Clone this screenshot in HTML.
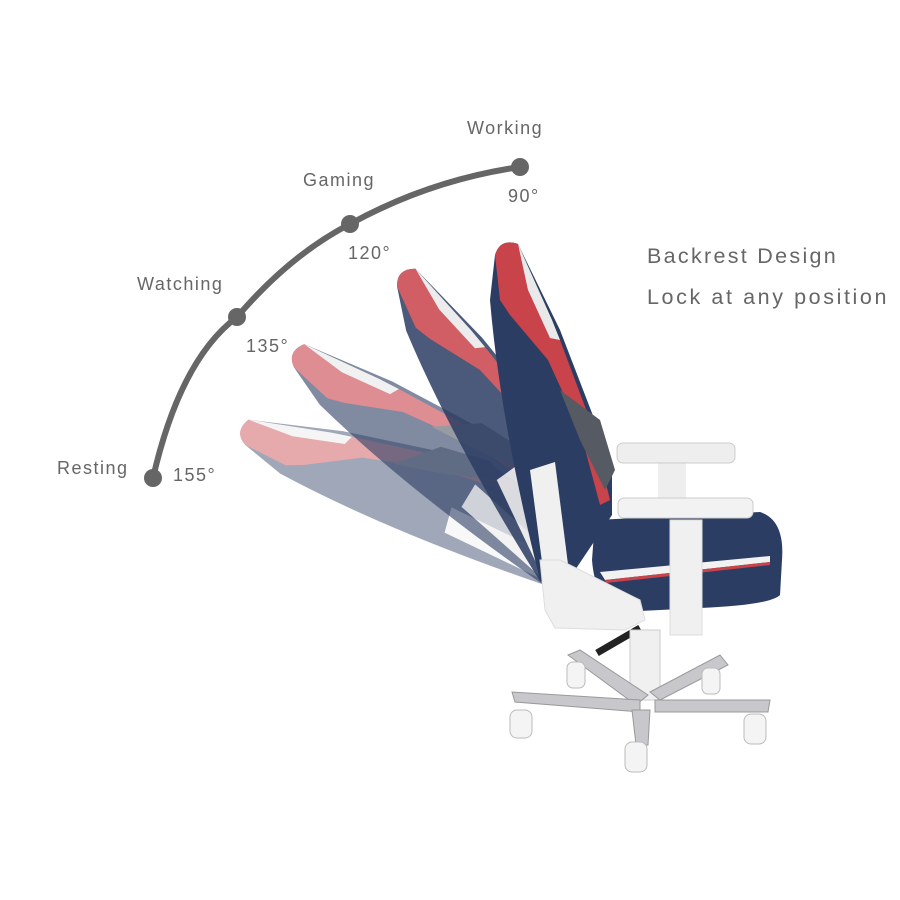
<!DOCTYPE html>
<html><head><meta charset="utf-8"><style>
html,body{margin:0;padding:0;background:#fff;}
svg{display:block}
text{font-family:"Liberation Sans",sans-serif;fill:#666;}
</style></head><body>
<svg width="900" height="900" viewBox="0 0 900 900" xmlns="http://www.w3.org/2000/svg">
<defs>
<g id="back">
  <path d="M495,255 Q500,238 518,244 L560,330 L612,465 L612,515 L565,585 L540,580 Q500,420 490,300 Z" fill="#2c3d63"/>
  <path d="M495,255 Q500,238 518,244 L530,290 L560,340 L590,420 L610,500 L600,505 L580,430 L548,360 L510,315 L500,300 Z" fill="#c9434a"/>
  <path d="M518,244 L552,320 L560,340 L550,338 L528,290 Z" fill="#e9e9e9"/>
  <path d="M560,390 L600,420 L615,470 L605,490 L580,440 Z" fill="#555a63"/>
  <path d="M530,470 L555,462 L570,580 L545,585 Z" fill="#f0f0f0"/>
</g>
</defs>
<path d="M153,478 Q180,360 237,317 Q290,255 350,224 Q430,180 520,167" fill="none" stroke="#666" stroke-width="6" stroke-linecap="round"/>
<circle cx="520" cy="167" r="9" fill="#666"/>
<circle cx="350" cy="224" r="9" fill="#666"/>
<circle cx="237" cy="317" r="9" fill="#666"/>
<circle cx="153" cy="478" r="9" fill="#666"/>
<g font-size="18" letter-spacing="1.5">
<text x="467" y="134">Working</text>
<text x="508" y="202">90°</text>
<text x="303" y="186">Gaming</text>
<text x="348" y="259">120°</text>
<text x="137" y="290">Watching</text>
<text x="246" y="352">135°</text>
<text x="57" y="474">Resting</text>
<text x="173" y="481">155°</text>
</g>
<g font-size="21.5" letter-spacing="2.3">
<text x="647" y="263">Backrest Design</text>
<text x="647" y="304" letter-spacing="2.6">Lock at any position</text>
</g>
<g opacity="0.45" transform="rotate(-57 545 580)"><use href="#back"/></g>
<g opacity="0.6" transform="rotate(-41 545 580)"><use href="#back"/></g>
<g opacity="0.85" transform="rotate(-18 545 580)"><use href="#back"/></g>
<use href="#back"/>
<path d="M595,520 L760,512 Q785,520 782,560 L780,595 Q770,605 700,608 L620,612 Q595,600 592,560 Z" fill="#2c3d63"/>
<path d="M600,572 L770,556 L770,562 L605,580 Z" fill="#f2f2f2"/>
<path d="M605,580 L770,562 L770,565 L606,583 Z" fill="#c9434a"/>
<path d="M540,560 L560,560 L600,580 L640,600 L645,620 L625,630 L555,628 L545,610 Z" fill="#f0f0f0" stroke="#ddd"/>
<rect x="658" y="460" width="28" height="50" fill="#eee"/>
<rect x="617" y="443" width="118" height="20" rx="6" fill="#eee" stroke="#ccc"/>
<rect x="670" y="520" width="32" height="115" fill="#f0f0f0" stroke="#ddd"/>
<rect x="618" y="498" width="135" height="20" rx="6" fill="#f2f2f2" stroke="#ccc"/>
<path d="M597,653 L640,628" stroke="#222" stroke-width="7"/>
<rect x="630" y="630" width="30" height="70" fill="#f0f0f0" stroke="#ccc"/>
<g fill="#c8c8cc" stroke="#999">
<path d="M568,655 L580,650 L648,695 L636,705 Z"/>
<path d="M720,655 L728,665 L660,700 L650,692 Z"/>
<path d="M512,692 L515,702 L640,712 L640,700 Z"/>
<path d="M770,700 L768,712 L655,712 L655,700 Z"/>
<path d="M632,710 L650,710 L648,745 L636,745 Z"/>
</g>
<g fill="#f4f4f4" stroke="#bbb">
<rect x="567" y="662" width="18" height="26" rx="6"/>
<rect x="702" y="668" width="18" height="26" rx="6"/>
<rect x="510" y="710" width="22" height="28" rx="7"/>
<rect x="744" y="714" width="22" height="30" rx="7"/>
<rect x="625" y="742" width="22" height="30" rx="7"/>
</g>
</svg>
</body></html>
